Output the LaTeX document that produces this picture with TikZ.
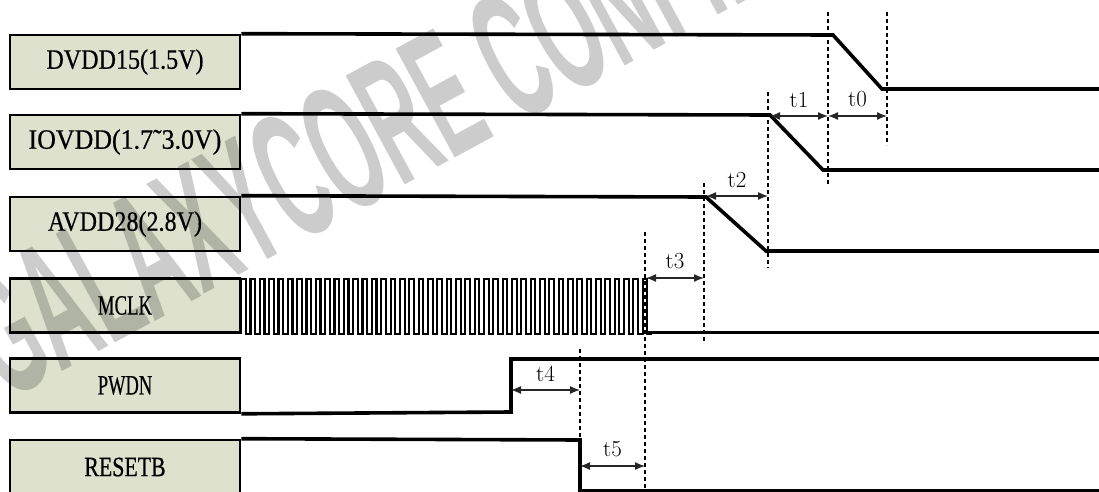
\documentclass[tikz,border=0pt]{standalone}
\usepackage{fontspec}
\usepackage{graphicx}
\usetikzlibrary{arrows.meta}
\newfontfamily\boxfont[FakeBold=0.6]{Liberation Serif}
\newfontfamily\wmfont{Liberation Sans Bold}
\definecolor{boxfill}{RGB}{221,225,205}
\tikzset{
  sigbox/.style={draw=black, line width=2.6pt, fill=boxfill, minimum width=230pt,
    minimum height=54pt, inner sep=0pt, font=\boxfont\fontsize{28}{30}\selectfont},
  sig/.style={line width=3.6pt, line join=miter},
  clk/.style={line width=2.3pt, line join=miter},
  vdash/.style={line width=2.2pt, dash pattern=on 4pt off 3pt},
  tarrow/.style={line width=1.3pt, black!85,
    {Latex[length=10pt,width=8pt]}-{Latex[length=10pt,width=8pt]}},
  tlabel/.style={above, inner sep=0pt, yshift=8pt, text=black, font=\fontsize{23}{25}\selectfont}
}
\newcommand{\sqz}[2]{\scalebox{#1}[1]{#2}}
\begin{document}
\begin{tikzpicture}[x=1pt,y=-1pt]
\useasboundingbox (0,0) rectangle (1099,492);
\clip (0,0) rectangle (1099,492);

% label boxes
\node[sigbox] (dvdd)  at (125,62)    {\sqz{0.86}{DVDD15(1.5V)}};
\node[sigbox] (iovdd) at (125,142)   {\sqz{0.925}{IOVDD(1.7˜3.0V)}};
\node[sigbox] (avdd)  at (125,224)   {\sqz{0.86}{AVDD28(2.8V)}};
\node[sigbox] (mclk)  at (125,305.5) {\sqz{0.67}{MCLK}};
\node[sigbox] (pwdn)  at (125,385.5) {\sqz{0.66}{PWDN}};
\node[sigbox] (rst)   at (125,467)   {\sqz{0.78}{RESETB}};

% waveforms
\draw[sig] (dvdd.north east) -- (833,35) -- (882,89) -- (1110,89);
\draw[sig] (iovdd.north east) -- (770,115) -- (823,170) -- (1110,170);
\draw[sig] (avdd.north east) -- (706,197) -- (766,251) -- (1110,251);
\draw[clk] (mclk.south east)
  \foreach \i in {0,...,43} { -- ++(0,-55) -- ++(4.667,0) -- ++(0,55) -- ++(4.667,0) };
\draw[sig] (646,332.5) -- (1110,332.5);
\draw[sig] (pwdn.south east) -- (511,412) -- (511,359) -- (1110,359);
\draw[sig] (rst.north east) -- (580,440) -- (580,491) -- (1110,491);

% dashed markers
\draw[vdash] (828,12) -- (828,186);
\draw[vdash] (887,12) -- (887,145);
\draw[vdash] (768,92) -- (768,268);
\draw[vdash] (704,183) -- (704,342);
\draw[vdash] (645,232) -- (645,495);
\draw[vdash] (580,349) -- (580,440);

% timing arrows
\draw[tarrow] (770,116) -- node[tlabel] {t1} (828,116);
\draw[tarrow] (828,116) -- node[tlabel] {t0} (887,116);
\draw[tarrow] (706,196) -- node[tlabel] {t2} (768,196);
\draw[tarrow] (646,278) -- node[tlabel] {t3} (704,278);
\draw[tarrow] (511,390) -- node[tlabel] {t4} (580,390);
\draw[tarrow] (580,466) -- node[tlabel] {t5} (645,466);

% watermark
\node[rotate=28.5, anchor=base west, inner sep=0pt, text opacity=0.2] (wm) at (6,402)
  {\scalebox{0.44}[1]{\wmfont\fontsize{180}{180}\selectfont GALAXYCORE CONFIDENTIAL}};
\end{tikzpicture}
\end{document}
